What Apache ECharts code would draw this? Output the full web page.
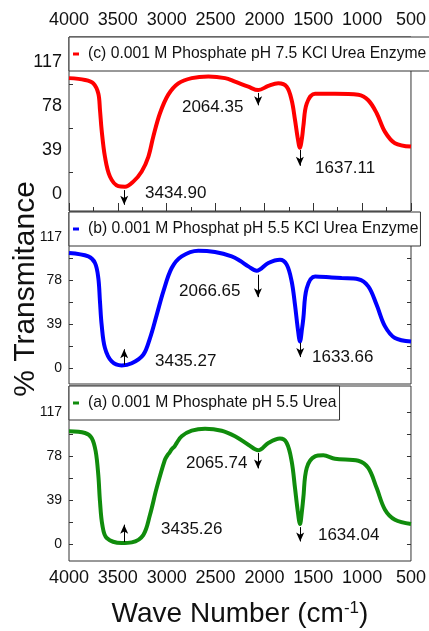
<!DOCTYPE html>
<html>
<head>
<meta charset="utf-8">
<script src="https://cdn.jsdelivr.net/npm/echarts@6/dist/echarts.min.js"></script>
<style>html,body{margin:0;padding:0;background:#fff}#chart{width:429px;height:631px}</style>
</head>
<body>
<div id="chart"></div>
<script>
// ---- data ----
const seriesNames = [
  '(c) 0.001 M Phosphate pH 7.5 KCl Urea Enzyme',
  '(b) 0.001 M Phosphat pH 5.5 KCl Urea Enzyme',
  '(a) 0.001 M Phosphate pH 5.5 Urea'
];
const waveC = [4000,3836,3751,3700,3683,3666,3632,3580,3495,3427,3342,3256,3188,3137,3069,2984,2881,2744,2574,2403,2301,2165,2063,1960,1858,1772,1721,1687,1660,1637,1615,1602,1567,1482,1278,1039,937,851,766,664,500];
const transC = [102.6,101,98,89,74.5,56.7,33,15.3,7,6.5,11,20,33,51,71.5,88,98,102.6,104,102.6,99.5,95,92,95.7,98,95,83,65.6,50,41,50,59.7,80,88.7,88.7,87.8,83,71.5,55,45,42];
const waveB = [4000,3802,3734,3700,3683,3666,3632,3563,3461,3358,3240,3171,3103,3035,2949,2847,2677,2506,2335,2250,2165,2079,1960,1841,1772,1721,1687,1660,1636,1615,1602,1567,1482,1312,1210,1039,937,851,766,664,500];
const transB = [102.4,99.4,93.5,80,59,38.4,17.6,5.6,2,4,11.6,26.5,47,68,89,99.4,104.5,103.3,99.4,95.5,90.5,86.6,93.5,96.4,92,77,56,36,23.5,35,44,71,81.5,80.6,80,79,72.6,56,36.9,26.5,23.5];
const waveA = [4000,3836,3768,3727,3700,3683,3659,3614,3461,3358,3240,3171,3103,3018,2990,2975,2949,2920,2898,2847,2744,2608,2437,2301,2165,2063,1960,1841,1772,1721,1687,1660,1636,1615,1602,1567,1482,1397,1278,1039,937,851,766,664,500];
const transA = [99.9,98.4,94,82.2,61,37.8,17,5.3,0.9,1.5,8,26,49.6,74.7,79,80.5,84,86.5,89.5,95.5,100.4,102.2,100.4,95.5,88,83,89.5,93.4,89.5,73.3,49.6,30,17.7,30,40.8,67.4,77.7,78.6,75.6,73.8,67.4,49.6,30.4,21.5,17.7];
const peaksC = ['3434.90','2064.35','1637.11'];
const peaksB = ['3435.27','2066.65','1633.66'];
const peaksA = ['3435.26','2065.74','1634.04'];
const xTickLabels = [4000,3500,3000,2500,2000,1500,1000,500];
const yTickLabels = [0,39,78,117];
const yMinorTicks = [19.5,58.5,97.5];
const yAllTicks = [0,19.5,39,58.5,78,97.5,117];

// ---- chart ----
const FONT = 'Liberation Sans';
const colors = ['#ff0000','#0000ff','#108c0c'];
const zip = (w,t) => w.map((x,i)=>[x,t[i]]);
const grids = [
  {left:69, right:18, top:37, height:174},
  {left:69, right:18, top:212, height:172},
  {left:69, right:18, top:386, height:175}
].map(g => Object.assign(g, {show:true, borderColor:'#333', borderWidth:1, backgroundColor:'transparent'}));

const xLabel = {show:true, customValues:xTickLabels, formatter:v=>String(v), fontSize:18, fontFamily:FONT, color:'#111', margin:8, showMinLabel:true, showMaxLabel:true};
const xBase = {type:'value', inverse:true, min:500, max:4000, interval:500,
  splitLine:{show:false}, axisLine:{show:false, onZero:false}};
const xAxes = [
  Object.assign({}, xBase, {gridIndex:0, position:'bottom', axisLabel:{show:false},
    axisTick:{show:true, inside:true, length:8, lineStyle:{color:'#333'}},
    minorTick:{show:true, splitNumber:2, length:4, lineStyle:{color:'#333'}}}),
  Object.assign({}, xBase, {gridIndex:0, position:'top', axisTick:{show:false}, axisLabel:xLabel}),
  Object.assign({}, xBase, {gridIndex:1, position:'bottom', axisLabel:{show:false}, axisTick:{show:false}}),
  Object.assign({}, xBase, {gridIndex:2, position:'bottom', axisTick:{show:false}, axisLabel:xLabel,
    name:'Wave Number (cm{sup|-1})', nameLocation:'middle', nameGap:39,
    nameTextStyle:{fontSize:28, fontFamily:FONT, color:'#111',
      rich:{sup:{fontSize:17, fontFamily:FONT, color:'#111', verticalAlign:'top', padding:[0,0,12,0]}}}})
];
const yRanges = [[-15,139],[-14.5,139],[-15,140]];
const yAxes = [];
yRanges.forEach((r,i)=>{
  yAxes.push({type:'value', gridIndex:i, position:'left', min:r[0], max:r[1],
    splitLine:{show:false}, axisLine:{show:false, onZero:false},
    axisTick:{show:true, inside:true, length:4, customValues: i===0 ? yMinorTicks : yAllTicks, lineStyle:{color:'#333'}},
    axisLabel:{show:true, customValues:yTickLabels, fontSize: i===0 ? 18 : 14, fontFamily:FONT, color:'#111', margin:7}});
  yAxes.push({type:'value', gridIndex:i, position:'right', min:r[0], max:r[1],
    splitLine:{show:false}, axisLine:{show:false, onZero:false}, axisLabel:{show:false},
    axisTick:{show: i!==0, inside:true, length:4, customValues:yAllTicks, lineStyle:{color:'#333'}}});
});
// axis carrying only the shared y title
yAxes.push({type:'value', gridIndex:1, position:'left', min:-14.5, max:139,
  splitLine:{show:false}, axisLine:{show:false, onZero:false}, axisLabel:{show:false}, axisTick:{show:false},
  name:'% Transmitance', nameLocation:'middle', nameGap:28, nameMoveOverlap:false,
  nameTextStyle:{fontSize:30, fontFamily:FONT, color:'#111', padding:[0,0,0,18]}});

function arrow(w, from, to){
  return [{coord:[w,from], symbol:'none'}, {coord:[w,to], symbol:'arrow', symbolSize:[6,9]}];
}
function label(text, w, v){
  return {coord:[w,v], symbol:'rect', symbolSize:0,
    label:{show:true, formatter:text, position:'right', distance:0, fontSize:17, fontFamily:FONT, color:'#111'}};
}
const annotations = [
  {arrows:[arrow(+peaksC[0],3.5,-9.5), arrow(+peaksC[1],89.5,78.5), arrow(+peaksC[2],39,25)],
   labels:[label(peaksC[0],3222,0.9), label(peaksC[1],2844,77.1), label(peaksC[2],1482,23)]},
  {arrows:[arrow(+peaksB[0],2.7,16.5), arrow(+peaksB[1],83,63), arrow(+peaksB[2],22.3,9.5)],
   labels:[label(peaksB[0],3120,5.4), label(peaksB[1],2874,67.9), label(peaksB[2],1513,8.9)]},
  {arrows:[arrow(+peaksA[0],1.8,17.2), arrow(+peaksA[1],80.7,67), arrow(+peaksA[2],15,2.3)],
   labels:[label(peaksA[0],3058,13.3), label(peaksA[1],2803,71.8), label(peaksA[2],1452,8)]}
];
const dataSets = [zip(waveC,transC), zip(waveB,transB), zip(waveA,transA)];
const xIdx = [0,2,3];
const series = dataSets.map((d,i)=>({
  type:'line', name:seriesNames[i], data:d, xAxisIndex:xIdx[i], yAxisIndex:i*2,
  smooth:0.35, showSymbol:false, symbol:'none', color:colors[i],
  lineStyle:{width:4, color:colors[i]},
  markLine:{silent:true, animation:false, lineStyle:{color:'#000', width:1, type:'solid'},
    label:{show:false}, data:annotations[i].arrows},
  markPoint:{silent:true, animation:false, data:annotations[i].labels}
}));
const legendTops = [37,212,386];
const legendPadRight = [6,2,3];
const legends = seriesNames.map((n,i)=>({
  data:[n], left:69, top:legendTops[i], orient:'horizontal', selectedMode:false,
  icon:'rect', itemWidth:6, itemHeight:3,
  padding:[9,legendPadRight[i],9,4], backgroundColor:'#fff', borderColor:'#333', borderWidth:1, borderRadius:0,
  textStyle:{fontSize:15.7, fontFamily:FONT, color:'#111', padding:[0,0,0,4]}
}));

const chart = echarts.init(document.getElementById('chart'), null, {renderer:'canvas'});
chart.setOption({
  animation:false,
  backgroundColor:'#fff',
  grid:grids, xAxis:xAxes, yAxis:yAxes, legend:legends, series:series
});
</script>
</body>
</html>
